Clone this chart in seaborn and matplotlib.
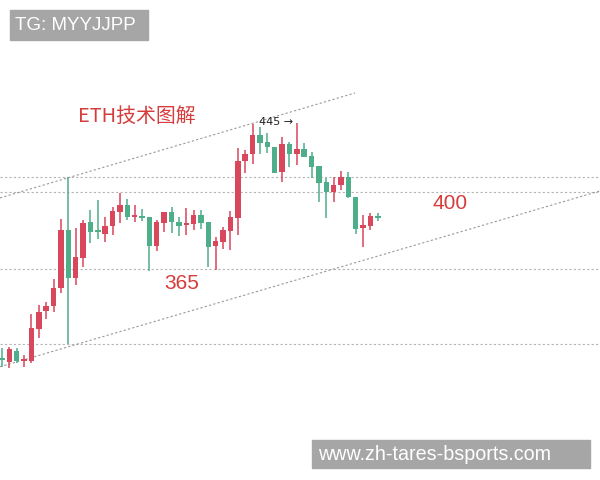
import numpy as np
import pandas as pd
import matplotlib
matplotlib.use("Agg")
import matplotlib.pyplot as plt
from matplotlib.patches import Rectangle
import seaborn as sns

# candle data (price units)
opens = [316.6, 314.5, 320.4, 315.0, 315.0, 332.4, 342.2, 344.9, 354.7, 386.3,
         360.2, 371.0, 390.6, 385.7, 384.1, 388.5, 396.1, 399.9, 393.4, 393.4,
         393.4, 377.6, 390.1, 396.1, 390.6, 389.0, 389.5, 394.4, 390.6, 377.6,
         379.7, 385.7, 392.8, 423.8, 427.6, 437.9, 434.1, 431.4, 417.8, 433.1,
         427.6, 430.3, 426.5, 421.1, 412.4, 406.9, 410.8, 415.1, 404.2, 387.4,
         388.5, 393.9]
highs = [322.1, 322.6, 322.1, 318.3, 340.6, 345.5, 347.1, 359.6, 392.3, 415.1,
         387.4, 391.7, 397.2, 402.6, 393.4, 398.8, 406.4, 403.1, 399.9, 397.7,
         393.4, 391.7, 396.1, 398.8, 393.4, 398.2, 397.2, 397.2, 390.6, 382.5,
         387.9, 396.6, 430.9, 429.8, 444.0, 442.3, 439.0, 431.4, 436.9, 434.1,
         444.5, 433.6, 428.7, 421.1, 414.6, 415.1, 418.4, 417.8, 404.2, 394.4,
         395.5, 395.5]
lows = [311.8, 311.2, 313.9, 311.8, 313.9, 327.5, 337.9, 341.7, 352.0, 324.3,
        356.4, 366.2, 379.2, 381.4, 379.7, 383.5, 390.1, 391.7, 390.6, 391.2,
        364.0, 374.9, 385.2, 384.6, 383.0, 383.5, 386.3, 386.8, 366.2, 364.5,
        375.9, 375.4, 383.5, 417.3, 422.2, 427.6, 428.2, 417.3, 412.4, 420.5,
        421.6, 426.0, 414.6, 401.5, 392.8, 401.5, 408.0, 403.7, 384.1, 377.0,
        386.3, 391.2]
closes = [315.6, 321.5, 315.0, 316.1, 332.9, 341.7, 344.9, 354.7, 386.3, 360.2,
          371.6, 390.1, 385.2, 385.2, 388.5, 396.6, 399.9, 393.4, 393.9, 392.8,
          377.6, 390.6, 396.1, 390.6, 388.5, 390.1, 394.4, 390.1, 377.0, 380.3,
          386.3, 393.4, 423.8, 427.6, 437.9, 433.6, 431.4, 417.3, 433.1, 427.6,
          430.3, 426.0, 420.5, 411.8, 406.9, 410.8, 415.1, 404.2, 386.8, 389.0,
          393.9, 392.8]

# horizontal support / resistance levels
levels = [415.1, 406.9, 365.1, 324.3]

# channel lines: (start index, start price, end index, end price)
upper_channel = [-0.27, 403.7, 47.9, 460.8]
lower_channel = [-0.27, 311.8, 81.14, 407.5]

df = pd.DataFrame({"open": opens, "high": highs, "low": lows, "close": closes})
df["idx"] = np.arange(len(df))
df["up"] = df["close"] >= df["open"]

RED = "#d9475d"
GREEN = "#4fae8a"
TEXT_RED = "#d63c3c"

sns.set_theme(style="white")
plt.rcParams["font.family"] = ["Liberation Sans", "Noto Sans CJK SC", "DejaVu Sans"]

fig = plt.figure(figsize=(6, 4.8), dpi=100)
ax = fig.add_axes([0, 0, 1, 1])
ax.set_xlim(-0.271, 81.14)
ax.set_ylim(250.2, 511.4)
ax.axis("off")

for lv in levels:
    ax.axhline(lv, color="#b4b4b4", lw=0.8, ls=(0, (2, 2)), zorder=1)

for ch in (upper_channel, lower_channel):
    sns.lineplot(x=[ch[0], ch[2]], y=[ch[1], ch[3]], ax=ax, color="#999999",
                 lw=0.8, linestyle=(0, (2, 2)), zorder=1)

colors = np.where(df["up"], RED, GREEN)
ax.vlines(df["idx"], df["low"], df["high"], colors=colors, lw=1.1, zorder=2)
body_lo = np.minimum(df["open"], df["close"])
body_h = np.maximum((df["close"] - df["open"]).abs(), 0.9)
ax.bar(df["idx"], body_h, bottom=body_lo, width=0.74, color=colors,
       linewidth=0, zorder=3)

ax.text(10.3, 448.3, "ETH技术图解", color=TEXT_RED, fontsize=14.3,
        va="center", ha="left",
        family=["Noto Sans CJK SC", "DejaVu Sans"])
ax.text(24.4, 357.4, "365", color=TEXT_RED, fontsize=15, va="center", ha="center")
ax.text(60.8, 400.4, "400", color=TEXT_RED, fontsize=15, va="center", ha="center")
ax.text(34.9, 445.0, "445 \u2192", color="#222222", fontsize=8, va="center",
        ha="left", family=["DejaVu Sans"])

# watermark boxes
fig.patches.append(Rectangle((10 / 600, 1 - 40 / 480), 138 / 600, 30 / 480,
                             transform=fig.transFigure, color="#a6a6a6", zorder=5))
fig.text(15 / 600, 1 - 25 / 480, "TG: MYYJJPP", color="white", fontsize=13.5,
         va="center", ha="left", zorder=6)
fig.patches.append(Rectangle((312 / 600, 1 - 468 / 480), 278 / 600, 28 / 480,
                             transform=fig.transFigure, color="#a6a6a6", zorder=5))
fig.text(318 / 600, 1 - 454 / 480, "www.zh-tares-bsports.com", color="white",
         fontsize=14.2, va="center", ha="left", zorder=6)

fig.savefig("out.png", dpi=100, facecolor="white")
plt.close(fig)
